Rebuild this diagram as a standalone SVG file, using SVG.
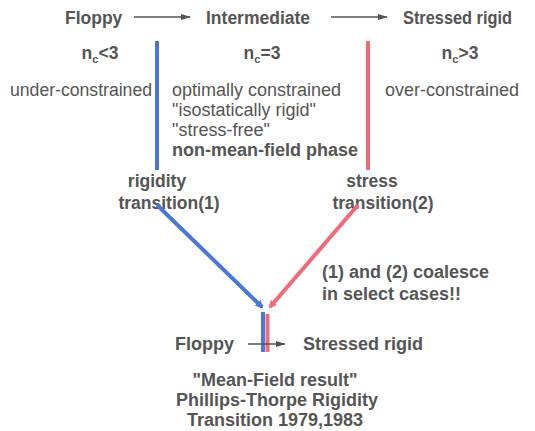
<svg xmlns="http://www.w3.org/2000/svg" width="535" height="431" viewBox="0 0 535 431">
<defs>
<style>
text{font-family:"Liberation Sans",Arial,sans-serif;fill:#555;font-size:18px}
.b{font-weight:bold}
.t{font-size:17.5px}
.c{text-anchor:middle}
.blue{stroke:#4a78d8;stroke-width:4;fill:none}
.red{stroke:#f06a7a;stroke-width:4;fill:none}
.ar{stroke:#555;stroke-width:1.5;fill:none}
</style>
<marker id="ah" markerWidth="10" markerHeight="8" refX="9" refY="4" orient="auto" markerUnits="userSpaceOnUse"><path d="M0,1 L10,4 L0,7 Z" fill="#555"/></marker>
<marker id="ab" markerWidth="8" markerHeight="8" refX="6" refY="4" orient="auto" markerUnits="userSpaceOnUse"><path d="M0,0 L8,4 L0,8 Z" fill="#4a78d8"/></marker>
<marker id="rb" markerWidth="8" markerHeight="8" refX="6" refY="4" orient="auto" markerUnits="userSpaceOnUse"><path d="M0,0 L8,4 L0,8 Z" fill="#f06a7a"/></marker>
</defs>
<g id="top-states">
<text class="b t" x="65" y="24">Floppy</text>
<text class="b t" x="206" y="24">Intermediate</text>
<text class="b t" x="403" y="24" textLength="109" lengthAdjust="spacingAndGlyphs">Stressed rigid</text>
</g>
<g id="phase-labels">
<text class="b c t" x="100" y="59">n<tspan font-size="11" dy="4">c</tspan><tspan dy="-4">&lt;3</tspan></text>
<text class="b c t" x="262" y="59">n<tspan font-size="11" dy="4">c</tspan><tspan dy="-4">=3</tspan></text>
<text class="b c t" x="460" y="59">n<tspan font-size="11" dy="4">c</tspan><tspan dy="-4">&gt;3</tspan></text>
<text x="10" y="96" textLength="142" lengthAdjust="spacingAndGlyphs">under-constrained</text>
<text x="172" y="96">optimally constrained</text>
<text x="172" y="116">"isostatically rigid"</text>
<text x="172" y="136">"stress-free"</text>
<text class="b" x="172" y="156">non-mean-field phase</text>
<text x="385" y="96">over-constrained</text>
</g>
<g id="transitions">
<text class="b c t" x="157" y="187">rigidity</text>
<text class="b c t" x="169" y="209">transition(1)</text>
<text class="b c t" x="372" y="187">stress</text>
<text class="b c t" x="383" y="209">transition(2)</text>
<text class="b" x="322" y="278">(1) and (2) coalesce</text>
<text class="b" x="322" y="300">in select cases!!</text>
</g>
<g id="bottom">
<text class="b" x="175" y="350">Floppy</text>
<text class="b" x="303" y="350">Stressed rigid</text>
<text class="b c" x="275" y="386">"Mean-Field result"</text>
<text class="b c" x="277" y="406">Phillips-Thorpe Rigidity</text>
<text class="b c" x="275" y="426">Transition 1979,1983</text>
</g>
<g id="connectors">
<line class="ar" x1="134" y1="17" x2="190" y2="17" marker-end="url(#ah)"/>
<line class="ar" x1="331" y1="17" x2="387" y2="17" marker-end="url(#ah)"/>
<line class="blue" x1="157" y1="41" x2="157" y2="170"/>
<line class="red" x1="368" y1="41" x2="368" y2="170"/>
<line class="blue" x1="157" y1="205" x2="262" y2="307" marker-end="url(#ab)"/>
<line class="red" x1="358" y1="205" x2="270" y2="307" marker-end="url(#rb)"/>
<line class="blue" x1="263" y1="312" x2="263" y2="352"/>
<line class="red" x1="267.5" y1="314" x2="267.5" y2="352"/>
<line class="ar" x1="248" y1="344" x2="285" y2="344" marker-end="url(#ah)"/>
</g>
</svg>
